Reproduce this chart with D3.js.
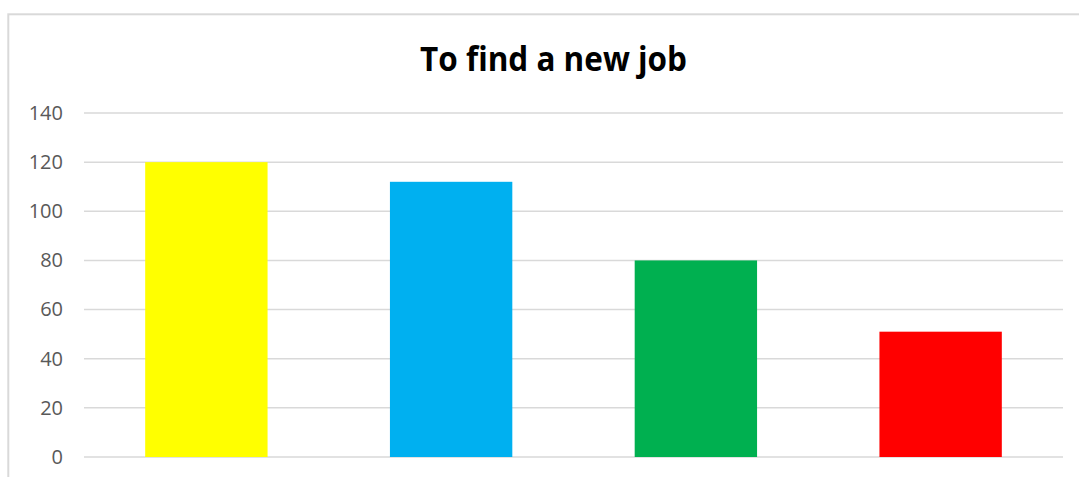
<!DOCTYPE html>
<html>
<head>
<meta charset="utf-8">
<script src="https://cdn.jsdelivr.net/npm/d3@7"></script>
<style>
  html, body { margin: 0; padding: 0; background: #fff; overflow: hidden; }
  svg { display: block; }
</style>
</head>
<body>
<script>
// Chart data
const categories = ["A", "B", "C", "D"];
const values = [120, 112, 80, 51];
const barColors = ["#ffff00", "#00b0f0", "#00b050", "#ff0000"];
const yTicks = [0, 20, 40, 60, 80, 100, 120, 140];
const title = "To find a new job";

const W = 1079, H = 477;
const plot = { left: 84, right: 1063, top: 113, bottom: 457 };

const svg = d3.select("body").append("svg")
  .attr("width", W).attr("height", H);

// Chart area frame (extends beyond the visible window on the right and bottom)
svg.append("rect")
  .attr("x", 8.3).attr("y", 14.3)
  .attr("width", 1200).attr("height", 600)
  .attr("fill", "#fff")
  .attr("stroke", "#d9d9d9").attr("stroke-width", 2);

const x = d3.scaleBand()
  .domain(categories)
  .range([plot.left, plot.right])
  .paddingInner(0.5).paddingOuter(0.25);

const y = d3.scaleLinear()
  .domain([0, 140])
  .range([plot.bottom, plot.top]);

// Gridlines
svg.append("g")
  .selectAll("line")
  .data(yTicks)
  .join("line")
  .attr("x1", plot.left).attr("x2", plot.right)
  .attr("y1", d => y(d)).attr("y2", d => y(d))
  .attr("stroke", "#d9d9d9").attr("stroke-width", 1.5);

// Y axis labels
const yAxis = d3.axisLeft(y).tickValues(yTicks).tickSize(0).tickPadding(21);
const yg = svg.append("g").attr("transform", `translate(${plot.left},0)`).call(yAxis);
yg.select(".domain").remove();
yg.selectAll("text")
  .attr("font-family", "'Open Sans', sans-serif")
  .attr("font-size", 20)
  .attr("fill", "#595959");

// Bars
svg.append("g")
  .selectAll("rect")
  .data(values)
  .join("rect")
  .attr("x", (d, i) => x(categories[i]))
  .attr("width", x.bandwidth())
  .attr("y", d => y(d))
  .attr("height", d => y(0) - y(d))
  .attr("fill", (d, i) => barColors[i]);

// Title: fitted to width, with a slight vertical stretch
const tg = svg.append("g").attr("transform", "translate(553.5,70.7) scale(1,1.08)");
const t = tg.append("text")
  .attr("x", 0).attr("y", 0)
  .attr("text-anchor", "middle")
  .attr("font-family", "'Open Sans', sans-serif")
  .attr("font-weight", 700)
  .attr("font-size", 100)
  .attr("fill", "#000")
  .text(title);
const w100 = t.node().getComputedTextLength();
t.attr("font-size", 100 * 267 / w100);
</script>
</body>
</html>
